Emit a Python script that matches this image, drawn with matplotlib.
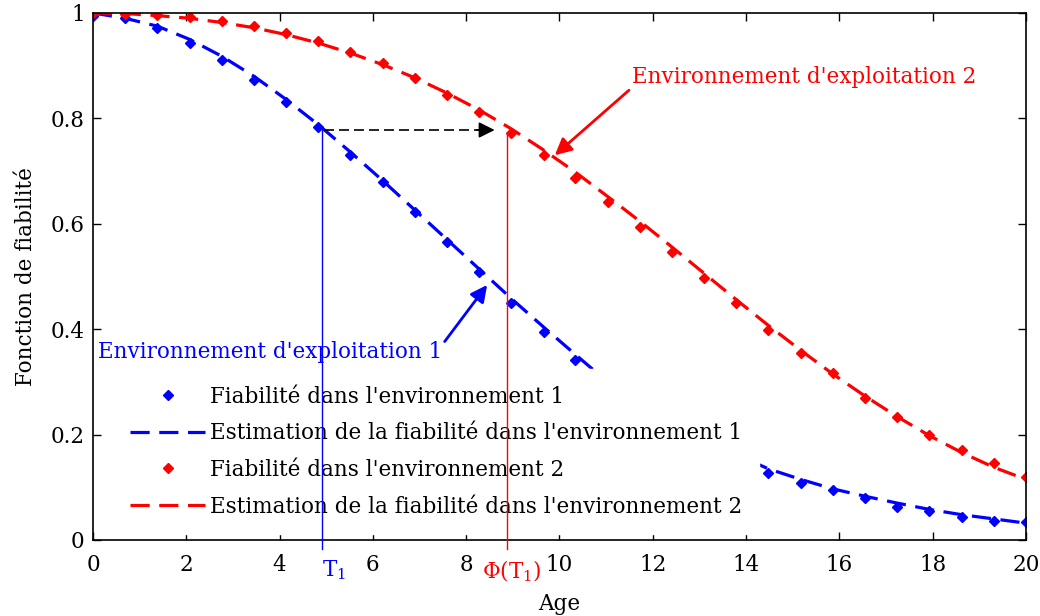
import matplotlib
matplotlib.use("Agg")
import matplotlib.pyplot as plt
from matplotlib.ticker import FormatStrFormatter

# data
age = [0, 0.69, 1.38, 2.07, 2.76, 3.45, 4.14, 4.83, 5.52, 6.21, 6.9, 7.59, 8.28, 8.97, 9.66,
       10.34, 11.03, 11.72, 12.41, 13.1, 13.79, 14.48, 15.17, 15.86, 16.55, 17.24, 17.93,
       18.62, 19.31, 20]
fiab_env1 = [0.995, 0.99, 0.971, 0.943, 0.911, 0.873, 0.831, 0.784, 0.73, 0.679, 0.622, 0.566,
             0.509, 0.45, 0.395, 0.342, 0.30, 0.26, 0.222, 0.19, 0.16, 0.127, 0.108, 0.095,
             0.08, 0.063, 0.055, 0.044, 0.036, 0.034]
est_env1 = [1.0, 0.99, 0.975, 0.95, 0.918, 0.88, 0.836, 0.788, 0.736, 0.682, 0.626, 0.57,
            0.514, 0.458, 0.404, 0.352, 0.30, 0.26, 0.222, 0.19, 0.162, 0.135, 0.115, 0.097,
            0.083, 0.07, 0.058, 0.048, 0.04, 0.032]
fiab_env2 = [1.0, 0.998, 0.996, 0.992, 0.985, 0.975, 0.962, 0.947, 0.926, 0.905, 0.877, 0.844,
             0.812, 0.772, 0.73, 0.687, 0.641, 0.594, 0.547, 0.497, 0.45, 0.398, 0.355, 0.317,
             0.269, 0.234, 0.199, 0.171, 0.146, 0.12]
est_env2 = [1.0, 0.999, 0.995, 0.99, 0.982, 0.972, 0.959, 0.943, 0.924, 0.902, 0.877, 0.848,
            0.816, 0.78, 0.74, 0.698, 0.652, 0.605, 0.556, 0.506, 0.456, 0.407, 0.36, 0.315,
            0.273, 0.234, 0.198, 0.166, 0.138, 0.115]

T1 = 4.9
R_T1 = 0.783
phi_T1 = 8.87
R_phi = 0.772

fs = 15.5
plt.rcParams['font.family'] = ['DejaVu Serif']
plt.rcParams['font.size'] = fs
plt.rcParams['mathtext.default'] = 'regular'

fig = plt.figure(figsize=(10.4, 6.16), dpi=100)
ax = fig.add_axes([0.0894, 0.1234, 0.8971, 0.8555])

dash = (0, (6, 3))
ax.plot(age, fiab_env1, 'D', color='blue', markersize=5, label="Fiabilité dans l'environnement 1")
ax.plot(age, est_env1, color='blue', linestyle=dash, linewidth=2.3,
        label="Estimation de la fiabilité dans l'environnement 1")
ax.plot(age, fiab_env2, 'D', color='red', markersize=5, label="Fiabilité dans l'environnement 2")
ax.plot(age, est_env2, color='red', linestyle=dash, linewidth=2.3,
        label="Estimation de la fiabilité dans l'environnement 2")

leg = ax.legend(loc='lower left', bbox_to_anchor=(0.022, 0.011), borderaxespad=0,
                frameon=True, fancybox=False, edgecolor='white', facecolor='white',
                framealpha=1, handlelength=3.5, handletextpad=0.23, labelspacing=0.68,
                borderpad=0.77, fontsize=fs)

# T1 -> Phi(T1) construction
ax.plot([T1, T1], [R_T1, -0.017], color='blue', linewidth=1, clip_on=False, zorder=6)
ax.plot([phi_T1, phi_T1], [R_phi, -0.017], color='red', linewidth=1, clip_on=False, zorder=6)
ax.plot([T1 + 0.05, phi_T1 - 0.45], [0.778, 0.778], color='black', linestyle=(0, (6, 3)),
        linewidth=1.2)
ax.annotate('', xy=(phi_T1 - 0.2, 0.778), xytext=(phi_T1 - 0.7, 0.778),
            arrowprops=dict(arrowstyle='-|>', color='black', lw=1.2, mutation_scale=24))
ax.text(T1, -0.035, r'$T_1$', color='blue', ha='left', va='top', fontsize=fs, clip_on=False)
ax.text(phi_T1 - 0.53, -0.035, r'Φ$(T_1)$', color='red', ha='left', va='top', fontsize=fs,
        clip_on=False)

# environment labels
ax.annotate("Environnement d'exploitation 2", xy=(9.9, 0.73), xytext=(11.55, 0.879),
            color='red', fontsize=fs, va='center', ha='left',
            arrowprops=dict(arrowstyle='-|>', color='red', lw=2, mutation_scale=25,
                            shrinkA=0, shrinkB=0, relpos=(0, 0.0)))
ax.annotate("Environnement d'exploitation 1", xy=(8.45, 0.484), xytext=(0.1, 0.357),
            color='blue', fontsize=fs, va='center', ha='left',
            arrowprops=dict(arrowstyle='-|>', color='blue', lw=2, mutation_scale=25,
                            shrinkA=0, shrinkB=0, relpos=(1.0, 0.8)))

ax.set_xlim(0, 20)
ax.set_ylim(0, 1)
ax.set_xticks(range(0, 21, 2))
ax.set_yticks([0, 0.2, 0.4, 0.6, 0.8, 1])
ax.yaxis.set_major_formatter(FormatStrFormatter('%g'))
ax.tick_params(direction='in', top=True, right=True, length=6, width=1, labelsize=fs)
ax.tick_params(axis='x', pad=10)
ax.tick_params(axis='y', pad=6)
for s in ax.spines.values():
    s.set_linewidth(1.2)
ax.set_xlabel('Age', fontsize=fs, labelpad=12)
ax.set_ylabel('Fonction de fiabilité', fontsize=fs, labelpad=10)

fig.savefig('out.png', dpi=100)
